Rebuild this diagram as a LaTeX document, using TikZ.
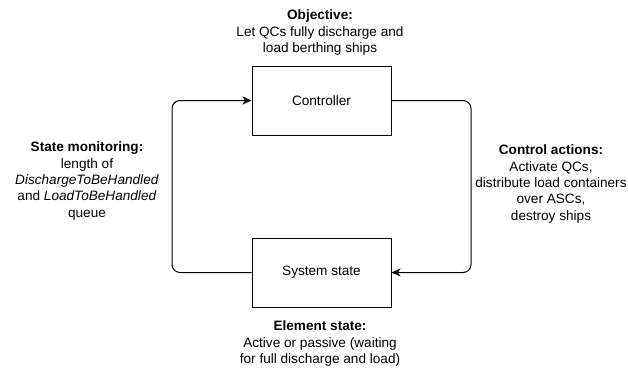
\documentclass[tikz,border=0pt]{standalone}
\usepackage{fontspec}
\setmainfont{Liberation Sans}
\usetikzlibrary{arrows.meta}
\begin{document}
\begin{tikzpicture}[x=1pt,y=-1pt,
  box/.style={draw, line width=1pt, minimum width=139pt, minimum height=69pt, inner sep=0pt, font=\fontsize{13.6}{16}\selectfont},
  lbl/.style={align=center, inner sep=0pt, font=\fontsize{13.6}{16.3}\selectfont},
  flow/.style={line width=1pt, rounded corners=8pt, -{Stealth[length=9pt,width=8pt,inset=2.5pt]}}]
  \useasboundingbox (0,0) rectangle (628,369);

  % the two blocks of the loop
  \node[box] (ctrl) at (321.5,100.5) {Controller};
  \node[box] (sys) at (321.5,272.5) {System state};

  % feedback paths
  \coordinate (lt) at (172,100.5);
  \coordinate (lb) at (172,272.5);
  \coordinate (rt) at (471,100.5);
  \coordinate (rb) at (471,272.5);
  \draw[flow] (sys.west) -- (lb) -- (lt) -- (ctrl.west);
  \draw[flow] (ctrl.east) -- (rt) -- (rb) -- (sys.east);

  % annotations
  \node[lbl] (obj) at (320,32.5) {\textbf{Objective:}\\Let QCs fully discharge and\\load berthing ships};
  \node[lbl] (mon) at (87,181) {\textbf{State monitoring:}\\length of\\\textit{DischargeToBeHandled}\\and \textit{LoadToBeHandled}\\queue};
  \node[lbl] (act) at (551,184) {\textbf{Control actions:}\\Activate QCs,\\distribute load containers\\over ASCs,\\destroy ships};
  \node[lbl] (elem) at (320,343.5) {\textbf{Element state:}\\Active or passive (waiting\\for full discharge and load)};
\end{tikzpicture}
\end{document}
